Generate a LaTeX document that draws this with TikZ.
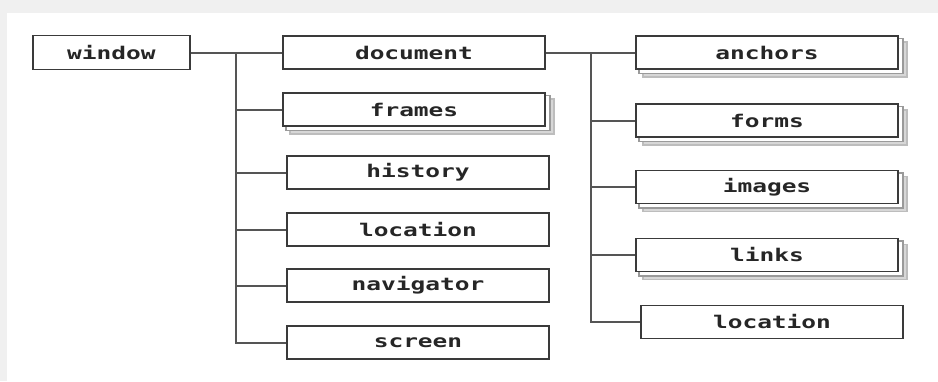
\documentclass[tikz,border=0pt]{standalone}
\usepackage{fontspec}
\newfontfamily\boxfont[FakeStretch=1.4]{DejaVu Sans Mono}
\definecolor{bgcol}{HTML}{F0F0F0}
\definecolor{edgecol}{HTML}{3A3A3A}
\definecolor{linecol}{HTML}{555555}
\definecolor{txtcol}{HTML}{262626}
\definecolor{shadA}{HTML}{9A9A9A}
\definecolor{shadB}{HTML}{BDBDBD}
\pgfdeclarelayer{paper}
\pgfdeclarelayer{shadowlayer}
\pgfsetlayers{paper,shadowlayer,main}
\tikzset{
  box/.style={draw=edgecol, line width=1.8pt, fill=white, rectangle,
    minimum width=262pt, minimum height=33pt, inner sep=0pt,
    font=\boxfont\bfseries\fontsize{17.5}{20}\selectfont, text=txtcol},
  conn/.style={draw=linecol, line width=2pt},
  shadowA/.style={draw=shadA, line width=1.5pt, fill=white},
  shadowB/.style={draw=shadB, line width=1.5pt, fill=shadB!60},
}
\newcommand{\stackshadow}[1]{%
  \draw[shadowB] ([shift={(8,7)}]#1.north west) rectangle ([shift={(8,7)}]#1.south east);
  \draw[shadowA] ([shift={(4,3.5)}]#1.north west) rectangle ([shift={(4,3.5)}]#1.south east);
}
\begin{document}
\begin{tikzpicture}[x=1pt,y=-1pt]
\begin{pgfonlayer}{paper}
\fill[bgcol] (0,0) rectangle (938,381);
\fill[white] (7,13) rectangle (938,381);
\end{pgfonlayer}
\useasboundingbox (0,0) rectangle (938,381);

% left column
\node[box, minimum width=157pt, minimum height=34pt] (window) at (111.5,52.5) {window};
\node[box] (document) at (414,52.5) {document};
\node[box] (frames) at (414,109.5) {frames};
\node[box] (history) at (418,172.5) {history};
\node[box] (location) at (418,229.5) {location};
\node[box] (navigator) at (418,285.5) {navigator};
\node[box] (screen) at (418,342.5) {screen};

% right column
\node[box] (anchors) at (767,52.5) {anchors};
\node[box] (forms) at (767,120.5) {forms};
\node[box] (images) at (767,187) {images};
\node[box] (links) at (767,255) {links};
\node[box] (location2) at (772,322) {location};

% stacked shadows behind some boxes
\begin{pgfonlayer}{shadowlayer}
\foreach \n in {frames,anchors,forms,images,links}{
  \stackshadow{\n}
}
\end{pgfonlayer}

% connectors
\coordinate (t1) at (236,52.5);
\coordinate (t2) at (591,52.5);
\draw[conn] (window.east) -- (document.west);
\draw[conn] (t1) -- (t1 |- screen.west) -- (screen.west);
\foreach \n in {frames,history,location,navigator}
  \draw[conn] (t1 |- \n.west) -- (\n.west);
\draw[conn] (document.east) -- (anchors.west);
\draw[conn] (t2) -- (t2 |- location2.west) -- (location2.west);
\foreach \n in {forms,images,links}
  \draw[conn] (t2 |- \n.west) -- (\n.west);
\end{tikzpicture}
\end{document}
